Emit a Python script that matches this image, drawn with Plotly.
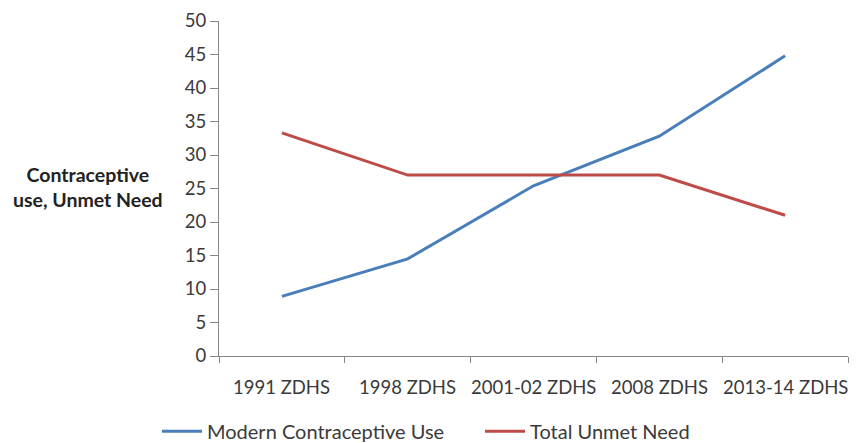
import plotly.graph_objects as go

categories = ["1991 ZDHS", "1998 ZDHS", "2001-02 ZDHS", "2008 ZDHS", "2013-14 ZDHS"]
modern_use = [8.9, 14.5, 25.4, 32.8, 44.8]
unmet_need = [33.3, 27.0, 27.0, 27.0, 21.0]

font_family = "Lato, Open Sans, sans-serif"

fig = go.Figure()
fig.add_trace(go.Scatter(x=categories, y=modern_use, mode="lines",
                         name="Modern Contraceptive Use", legend="legend",
                         line=dict(color="#4A7EBB", width=3)))
fig.add_trace(go.Scatter(x=categories, y=unmet_need, mode="lines",
                         name="Total Unmet Need", legend="legend2",
                         line=dict(color="#BE4B48", width=3)))

legend_common = dict(orientation="h", xref="container", xanchor="left",
                     yref="container", y=0.027, yanchor="middle",
                     font=dict(size=20, color="#3a3a3a"), itemwidth=40)

# category labels placed a little further below the axis, as in the reference
cat_labels = [dict(text=c, xref="x", x=c, yref="paper", y=0, yanchor="middle",
                   yshift=-31, showarrow=False,
                   font=dict(size=18.5, color="#3a3a3a")) for c in categories]

# the page body adds an 8px offset, so the figure is sized to fit the window
fig.update_layout(
    width=849, height=435,
    margin=dict(l=211, r=9, t=13, b=87, autoexpand=False),
    paper_bgcolor="white", plot_bgcolor="white",
    font=dict(family=font_family, size=18.5, color="#3a3a3a"),
    showlegend=True,
    legend=dict(x=0.1755, **legend_common),
    legend2=dict(x=0.556, **legend_common),
    xaxis=dict(type="category", range=[-0.5, 4.5], showgrid=False, automargin=False,
               showline=True, linecolor="#868686", linewidth=1, tickangle=0,
               ticks="outside", tickson="boundaries", ticklen=6, tickcolor="#868686",
               showticklabels=False),
    yaxis=dict(range=[0, 50], dtick=5, showgrid=False, zeroline=False, automargin=False,
               showline=True, linecolor="#868686", linewidth=1,
               ticks="outside", ticklen=8, tickcolor="#868686",
               tickfont=dict(size=18.5)),
    annotations=[dict(text="<b>Contraceptive<br>use, Unmet Need</b>",
                      xref="paper", yref="paper", x=-0.208, y=0.505,
                      xanchor="center", yanchor="middle", showarrow=False,
                      font=dict(size=19.5, color="#222222"))] + cat_labels,
)

fig.write_html("out.html")
